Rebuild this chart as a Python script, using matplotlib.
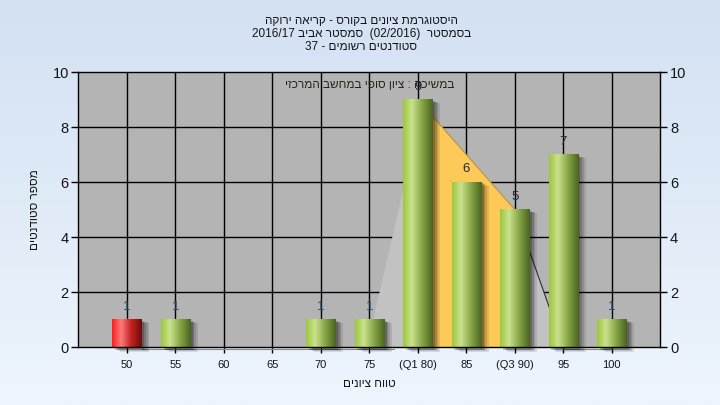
import matplotlib
matplotlib.use('Agg')
import matplotlib.pyplot as plt
import numpy as np
from matplotlib.colors import LinearSegmentedColormap
from matplotlib.patches import Rectangle, Polygon


def rev(s):
    """עברית: הפיכת סדר התווים לתצוגה משמאל לימין"""
    return s[::-1]


# ==========================================
# נתונים
# ==========================================
categories = ['50', '55', '60', '65', '70', '75', '(Q1 80)', '85', '(Q3 90)', '95', '100']
counts = [1, 1, 0, 0, 1, 1, 9, 6, 5, 7, 1]
fail_idx = [0]                       # עמודה אדומה

# קווי תיבה (box plot) מצוירים ברקע
left_shade = [(5, 0.4), (6, 8.0), (6, 0), (5, 0)]
box_shade = [(6, 9), (8, 5), (8, 0), (6, 0)]
right_shade = [(8, 5), (9, 0), (8, 0)]

title_lines = [
    rev('היסטוגרמת ציונים בקורס - קריאה ירוקה'),
    '2016/17 ' + rev('סמסטר אביב') + '  (02/2016)  ' + rev('בסמסטר'),
    '37 - ' + rev('סטודנטים רשומים'),
]
note_text = rev('במשיכה : ציון סופי במחשב המרכזי')
xlabel = rev('טווח ציונים')
ylabel = rev('מספר סטודנטים')

# ==========================================
# סגנון
# ==========================================
fam = ['Liberation Sans Narrow', 'Liberation Sans', 'DejaVu Sans']
plt.rcParams['font.family'] = fam
txt_col = '#151515'

fig = plt.figure(figsize=(7.2, 4.05), dpi=100)

# רקע מדורג
bg = fig.add_axes([0, 0, 1, 1], zorder=-10)
bg_cmap = LinearSegmentedColormap.from_list('bg', ['#d3e1f3', '#eef5fd'])
bg.imshow(np.linspace(0, 1, 256).reshape(-1, 1), cmap=bg_cmap, aspect='auto',
          extent=(0, 1, 0, 1))
bg.set_axis_off()

ax = fig.add_axes([0.109, 0.143, 0.808, 0.679])
ax.set_facecolor('#b4b4b4')
ax.patch.set_zorder(0)

x = np.arange(len(categories))
w = 0.6

# קווי רשת
for xi in x:
    ax.axvline(xi, color='black', lw=1.0, zorder=1)
for yi in [2, 4, 6, 8]:
    ax.axhline(yi, color='black', lw=1.0, zorder=1)

# אזורי box plot
ax.add_patch(Polygon(left_shade, closed=True, facecolor='#c2c2c2', edgecolor='none', zorder=1.5))
ax.add_patch(Polygon(right_shade, closed=True, facecolor='#c2c2c2', edgecolor='none', zorder=1.5))
ax.add_patch(Polygon(box_shade, closed=True, facecolor='#fdc958', edgecolor='none', zorder=1.6))
ax.plot([box_shade[0][0], box_shade[1][0]], [box_shade[0][1], box_shade[1][1]],
        color='#b89540', lw=0.8, zorder=1.7)
ax.plot([right_shade[0][0], right_shade[1][0]], [right_shade[0][1], right_shade[1][1]],
        color='#303030', lw=0.8, zorder=1.7)
# שפמים
ax.plot([0.3, 5.5], [-0.08, -0.08], color='#8a8a8a', lw=0.8, zorder=1.7, clip_on=False)
ax.plot([9, 10], [-0.08, -0.08], color='#8a8a8a', lw=0.8, zorder=1.7, clip_on=False)

green = LinearSegmentedColormap.from_list(
    'g', [(0, '#9cc83a'), (0.3, '#c9e28e'), (0.65, '#86a444'), (1, '#4a6420')])
red = LinearSegmentedColormap.from_list(
    'r', [(0, '#ff1c1c'), (0.3, '#ff7b7b'), (0.65, '#c02020'), (1, '#6e0c0c')])
grad = np.linspace(0, 1, 128).reshape(1, -1)

for i, (xi, v) in enumerate(zip(x, counts)):
    if v <= 0:
        continue
    # צל
    for k, a in enumerate([0.10, 0.12, 0.16, 0.2]):
        off = 0.16 - k * 0.035
        ax.add_patch(Rectangle((xi - w / 2 + off, -0.18 + k * 0.03), w, v + 0.05,
                               facecolor='black', alpha=a, edgecolor='none',
                               zorder=2, clip_on=False))
    cmap = red if i in fail_idx else green
    ax.imshow(grad, cmap=cmap, aspect='auto', zorder=3,
              extent=(xi - w / 2, xi + w / 2, 0, v), interpolation='bilinear')
    lab_col = '#1c2a44' if v > 1 else '#1f4a6e'
    ax.text(xi, v + 0.25, str(v), ha='center', va='bottom', fontsize=9.5,
            color=lab_col, zorder=4)

ax.text(5.0, 9.53, note_text, ha='center', va='center', fontsize=8.5,
        color='#2a2418', zorder=4)

ax.set_xlim(-1, 11)
ax.set_ylim(0, 10)
ax.set_xticks(x)
ax.set_xticklabels(categories, fontsize=8, color=txt_col)
ax.set_yticks([0, 2, 4, 6, 8, 10])
ax.tick_params(axis='y', which='both', left=True, right=True, labelleft=True,
               labelright=True, direction='out', length=5, width=1,
               labelsize=10.5, labelcolor=txt_col, pad=2)
ax.tick_params(axis='x', direction='out', length=4, width=1, pad=5)
for s in ax.spines.values():
    s.set_color('black')
    s.set_linewidth(1.0)
    s.set_zorder(5)

ax.set_xlabel(xlabel, fontsize=8.5, color=txt_col, labelpad=6)
ax.set_ylabel(ylabel, fontsize=8.5, color=txt_col, labelpad=8)

fig.text(0.502, 0.962, '\n'.join(title_lines), ha='center', va='top',
         fontsize=8.5, color=txt_col, linespacing=1.1)

fig.savefig('out.png', dpi=100)
